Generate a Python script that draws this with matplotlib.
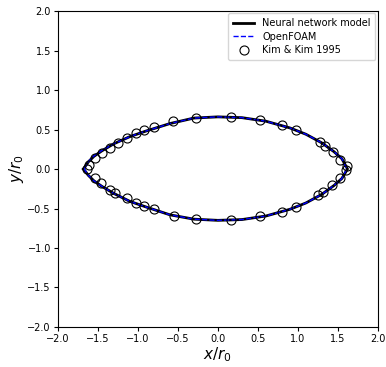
import numpy as np
import matplotlib
matplotlib.use('Agg')
import matplotlib.pyplot as plt

# 神经网络模型预测的界面轮廓（上半部分从左尖端到右端，下半部分从右端回到左尖端）
nn_x = [-1.68, -1.62, -1.55, -1.45, -1.30, -1.10, -0.90, -0.60, -0.30, 0.00, 0.30, 0.60, 0.90,
        1.10, 1.30, 1.45, 1.55, 1.62,
        1.55, 1.45, 1.30, 1.10, 0.90, 0.60, 0.30, 0.00, -0.30, -0.60, -0.90, -1.10, -1.30,
        -1.45, -1.55, -1.62, -1.68]
nn_y = [0.00, 0.09, 0.16, 0.23, 0.32, 0.41, 0.48, 0.575, 0.645, 0.66, 0.65, 0.605, 0.52,
        0.44, 0.33, 0.22, 0.13, 0.00,
        -0.12, -0.21, -0.32, -0.43, -0.51, -0.595, -0.64, -0.65, -0.635, -0.58, -0.48, -0.41,
        -0.31, -0.22, -0.15, -0.08, 0.00]

# OpenFOAM 计算结果
of_x = [-1.67, -1.62, -1.55, -1.45, -1.30, -1.10, -0.90, -0.60, -0.30, 0.00, 0.30, 0.60, 0.90,
        1.10, 1.30, 1.45, 1.55, 1.61,
        1.55, 1.45, 1.30, 1.10, 0.90, 0.60, 0.30, 0.00, -0.30, -0.60, -0.90, -1.10, -1.30,
        -1.45, -1.55, -1.62, -1.67]
of_y = [0.00, 0.095, 0.165, 0.235, 0.32, 0.41, 0.48, 0.575, 0.645, 0.66, 0.65, 0.605, 0.52,
        0.44, 0.33, 0.22, 0.13, 0.00,
        -0.12, -0.21, -0.32, -0.43, -0.51, -0.595, -0.64, -0.65, -0.635, -0.58, -0.48, -0.41,
        -0.31, -0.22, -0.15, -0.08, 0.00]

# Kim & Kim 1995 实验数据点
kim_x = [-1.64, -1.61, -1.53, -1.45, -1.35, -1.25, -1.14, -1.02, -0.925, -0.80, -0.56, -0.27,
         0.16, 0.525, 0.80, 0.975, 1.275, 1.34, 1.44, 1.525, 1.61,
         -1.53, -1.46, -1.35, -1.29, -1.14, -1.02, -0.92, -0.80, -0.55, -0.27, 0.16, 0.525,
         0.80, 0.975, 1.25, 1.32, 1.43, 1.525, 1.60]
kim_y = [0.00, 0.05, 0.135, 0.20, 0.27, 0.33, 0.39, 0.45, 0.49, 0.53, 0.61, 0.64,
         0.66, 0.62, 0.56, 0.50, 0.345, 0.29, 0.21, 0.12, 0.04,
         -0.11, -0.175, -0.26, -0.30, -0.37, -0.43, -0.47, -0.51, -0.59, -0.63, -0.645, -0.60,
         -0.55, -0.48, -0.33, -0.29, -0.20, -0.12, -0.01]

fig = plt.figure(figsize=(3.86, 3.67), dpi=100)
ax = fig.add_axes([0.150, 0.109, 0.829, 0.861])

ax.plot(nn_x, nn_y, color='black', lw=2.0, label='Neural network model')
ax.plot(of_x, of_y, color='blue', lw=1.0, ls='--', label='OpenFOAM')
ax.plot(kim_x, kim_y, ls='none', marker='o', ms=6.5, mfc='none', mec='black', mew=0.8,
        label='Kim & Kim 1995')

ax.set_xlim(-2.0, 2.0)
ax.set_ylim(-2.0, 2.0)
ax.set_xticks(np.arange(-2.0, 2.01, 0.5))
ax.set_yticks(np.arange(-2.0, 2.01, 0.5))
ax.tick_params(labelsize=7, length=3, width=0.8, pad=2)
ax.set_xlabel(r'$x/r_0$', fontsize=11, labelpad=1)
ax.set_ylabel(r'$y/r_0$', fontsize=11, labelpad=1)

ax.legend(loc='upper right', fontsize=7, handlelength=2.2, borderpad=0.5,
          labelspacing=0.35, borderaxespad=0.25)

fig.savefig('out.png', dpi=100)
